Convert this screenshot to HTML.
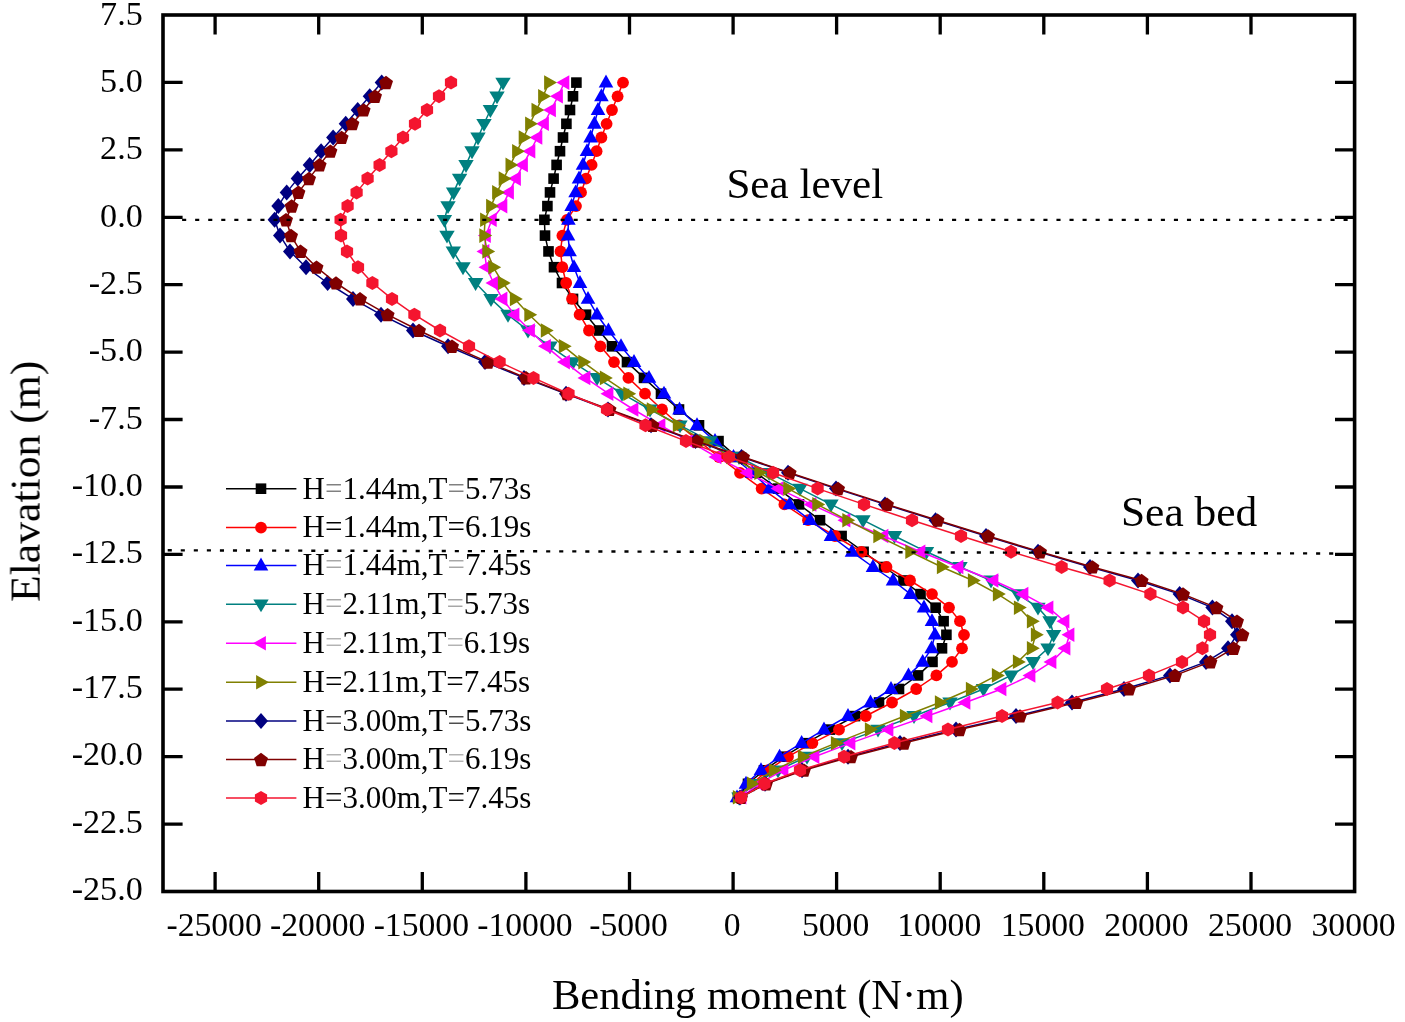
<!DOCTYPE html>
<html lang="en"><head><meta charset="utf-8"><title>Bending moment vs elevation</title>
<style>html,body{margin:0;padding:0;background:#fff}svg{display:block}text{font-family:"Liberation Serif","Times New Roman",serif;fill:#000}</style></head><body>
<svg width="1405" height="1022" viewBox="0 0 1405 1022">
<rect width="1405" height="1022" fill="#fff"/>
<g>
<polyline points="576.4,82.6 573,96.3 570,110 566.4,123.8 563,137.5 560,151.2 556.6,164.9 553.6,178.6 550,192.4 547.4,206.1 544.4,219.8 545,235.6 548.5,251.4 554,267.2 562,283 573,298.9 586,314.7 599,330.5 612,346.3 627,362.1 644,377.9 661,393.7 679,409.5 699,425.3 718.5,441.1 737,457 756,472.8 778,488.6 799,504.4 820,520.2 841.6,536 863.6,551.8 884,567 903.5,580.5 920.5,594.1 935.6,607.6 943.6,621.2 946.4,634.8 942,648.3 932.5,661.9 918,675.4 899,689 879,702.5 855,716 830,729.6 806,743.1 784,756.7 764,770.2 748,783.8 738,797.4" fill="none" stroke="#000000" stroke-width="1.5" stroke-linejoin="round"/>
<rect x="571.1" y="77.3" width="10.6" height="10.6" fill="#000000"/>
<rect x="567.7" y="91" width="10.6" height="10.6" fill="#000000"/>
<rect x="564.7" y="104.7" width="10.6" height="10.6" fill="#000000"/>
<rect x="561.1" y="118.5" width="10.6" height="10.6" fill="#000000"/>
<rect x="557.7" y="132.2" width="10.6" height="10.6" fill="#000000"/>
<rect x="554.7" y="145.9" width="10.6" height="10.6" fill="#000000"/>
<rect x="551.3" y="159.6" width="10.6" height="10.6" fill="#000000"/>
<rect x="548.3" y="173.3" width="10.6" height="10.6" fill="#000000"/>
<rect x="544.7" y="187.1" width="10.6" height="10.6" fill="#000000"/>
<rect x="542.1" y="200.8" width="10.6" height="10.6" fill="#000000"/>
<rect x="539.1" y="214.5" width="10.6" height="10.6" fill="#000000"/>
<rect x="539.7" y="230.3" width="10.6" height="10.6" fill="#000000"/>
<rect x="543.2" y="246.1" width="10.6" height="10.6" fill="#000000"/>
<rect x="548.7" y="261.9" width="10.6" height="10.6" fill="#000000"/>
<rect x="556.7" y="277.7" width="10.6" height="10.6" fill="#000000"/>
<rect x="567.7" y="293.6" width="10.6" height="10.6" fill="#000000"/>
<rect x="580.7" y="309.4" width="10.6" height="10.6" fill="#000000"/>
<rect x="593.7" y="325.2" width="10.6" height="10.6" fill="#000000"/>
<rect x="606.7" y="341" width="10.6" height="10.6" fill="#000000"/>
<rect x="621.7" y="356.8" width="10.6" height="10.6" fill="#000000"/>
<rect x="638.7" y="372.6" width="10.6" height="10.6" fill="#000000"/>
<rect x="655.7" y="388.4" width="10.6" height="10.6" fill="#000000"/>
<rect x="673.7" y="404.2" width="10.6" height="10.6" fill="#000000"/>
<rect x="693.7" y="420" width="10.6" height="10.6" fill="#000000"/>
<rect x="713.2" y="435.8" width="10.6" height="10.6" fill="#000000"/>
<rect x="731.7" y="451.7" width="10.6" height="10.6" fill="#000000"/>
<rect x="750.7" y="467.5" width="10.6" height="10.6" fill="#000000"/>
<rect x="772.7" y="483.3" width="10.6" height="10.6" fill="#000000"/>
<rect x="793.7" y="499.1" width="10.6" height="10.6" fill="#000000"/>
<rect x="814.7" y="514.9" width="10.6" height="10.6" fill="#000000"/>
<rect x="836.3" y="530.7" width="10.6" height="10.6" fill="#000000"/>
<rect x="858.3" y="546.5" width="10.6" height="10.6" fill="#000000"/>
<rect x="878.7" y="561.7" width="10.6" height="10.6" fill="#000000"/>
<rect x="898.2" y="575.2" width="10.6" height="10.6" fill="#000000"/>
<rect x="915.2" y="588.8" width="10.6" height="10.6" fill="#000000"/>
<rect x="930.3" y="602.4" width="10.6" height="10.6" fill="#000000"/>
<rect x="938.3" y="615.9" width="10.6" height="10.6" fill="#000000"/>
<rect x="941.1" y="629.5" width="10.6" height="10.6" fill="#000000"/>
<rect x="936.7" y="643" width="10.6" height="10.6" fill="#000000"/>
<rect x="927.2" y="656.6" width="10.6" height="10.6" fill="#000000"/>
<rect x="912.7" y="670.1" width="10.6" height="10.6" fill="#000000"/>
<rect x="893.7" y="683.7" width="10.6" height="10.6" fill="#000000"/>
<rect x="873.7" y="697.2" width="10.6" height="10.6" fill="#000000"/>
<rect x="849.7" y="710.8" width="10.6" height="10.6" fill="#000000"/>
<rect x="824.7" y="724.3" width="10.6" height="10.6" fill="#000000"/>
<rect x="800.7" y="737.9" width="10.6" height="10.6" fill="#000000"/>
<rect x="778.7" y="751.4" width="10.6" height="10.6" fill="#000000"/>
<rect x="758.7" y="765" width="10.6" height="10.6" fill="#000000"/>
<rect x="742.7" y="778.5" width="10.6" height="10.6" fill="#000000"/>
<rect x="732.7" y="792.1" width="10.6" height="10.6" fill="#000000"/>
</g>
<g>
<polyline points="623,82.6 617.6,96.3 612,110 606.6,123.8 601.4,137.5 596.6,151.2 591.6,164.9 586,178.6 581,192.4 576,206.1 567,219.8 562.4,235.6 560.5,251.4 562.3,267.2 566.2,283 572,298.9 579.6,314.7 589,330.5 600.4,346.3 614,362.1 628.4,377.9 645,393.7 662,409.5 679.5,425.3 699,441.1 719,457 740,472.8 761.6,488.6 784.4,504.4 808,520.2 835,536 861.5,551.8 886.5,567 910,580.5 932,594.1 949,607.6 960,621.2 964,634.8 962,648.3 952,661.9 936.4,675.4 916.2,689 892,702.5 865.8,716 839,729.6 812.4,743.1 788,756.7 768,770.2 752,783.8 740,797.4" fill="none" stroke="#FF0000" stroke-width="1.5" stroke-linejoin="round"/>
<circle cx="623" cy="82.6" r="5.9" fill="#FF0000"/>
<circle cx="617.6" cy="96.3" r="5.9" fill="#FF0000"/>
<circle cx="612" cy="110" r="5.9" fill="#FF0000"/>
<circle cx="606.6" cy="123.8" r="5.9" fill="#FF0000"/>
<circle cx="601.4" cy="137.5" r="5.9" fill="#FF0000"/>
<circle cx="596.6" cy="151.2" r="5.9" fill="#FF0000"/>
<circle cx="591.6" cy="164.9" r="5.9" fill="#FF0000"/>
<circle cx="586" cy="178.6" r="5.9" fill="#FF0000"/>
<circle cx="581" cy="192.4" r="5.9" fill="#FF0000"/>
<circle cx="576" cy="206.1" r="5.9" fill="#FF0000"/>
<circle cx="567" cy="219.8" r="5.9" fill="#FF0000"/>
<circle cx="562.4" cy="235.6" r="5.9" fill="#FF0000"/>
<circle cx="560.5" cy="251.4" r="5.9" fill="#FF0000"/>
<circle cx="562.3" cy="267.2" r="5.9" fill="#FF0000"/>
<circle cx="566.2" cy="283" r="5.9" fill="#FF0000"/>
<circle cx="572" cy="298.9" r="5.9" fill="#FF0000"/>
<circle cx="579.6" cy="314.7" r="5.9" fill="#FF0000"/>
<circle cx="589" cy="330.5" r="5.9" fill="#FF0000"/>
<circle cx="600.4" cy="346.3" r="5.9" fill="#FF0000"/>
<circle cx="614" cy="362.1" r="5.9" fill="#FF0000"/>
<circle cx="628.4" cy="377.9" r="5.9" fill="#FF0000"/>
<circle cx="645" cy="393.7" r="5.9" fill="#FF0000"/>
<circle cx="662" cy="409.5" r="5.9" fill="#FF0000"/>
<circle cx="679.5" cy="425.3" r="5.9" fill="#FF0000"/>
<circle cx="699" cy="441.1" r="5.9" fill="#FF0000"/>
<circle cx="719" cy="457" r="5.9" fill="#FF0000"/>
<circle cx="740" cy="472.8" r="5.9" fill="#FF0000"/>
<circle cx="761.6" cy="488.6" r="5.9" fill="#FF0000"/>
<circle cx="784.4" cy="504.4" r="5.9" fill="#FF0000"/>
<circle cx="808" cy="520.2" r="5.9" fill="#FF0000"/>
<circle cx="835" cy="536" r="5.9" fill="#FF0000"/>
<circle cx="861.5" cy="551.8" r="5.9" fill="#FF0000"/>
<circle cx="886.5" cy="567" r="5.9" fill="#FF0000"/>
<circle cx="910" cy="580.5" r="5.9" fill="#FF0000"/>
<circle cx="932" cy="594.1" r="5.9" fill="#FF0000"/>
<circle cx="949" cy="607.6" r="5.9" fill="#FF0000"/>
<circle cx="960" cy="621.2" r="5.9" fill="#FF0000"/>
<circle cx="964" cy="634.8" r="5.9" fill="#FF0000"/>
<circle cx="962" cy="648.3" r="5.9" fill="#FF0000"/>
<circle cx="952" cy="661.9" r="5.9" fill="#FF0000"/>
<circle cx="936.4" cy="675.4" r="5.9" fill="#FF0000"/>
<circle cx="916.2" cy="689" r="5.9" fill="#FF0000"/>
<circle cx="892" cy="702.5" r="5.9" fill="#FF0000"/>
<circle cx="865.8" cy="716" r="5.9" fill="#FF0000"/>
<circle cx="839" cy="729.6" r="5.9" fill="#FF0000"/>
<circle cx="812.4" cy="743.1" r="5.9" fill="#FF0000"/>
<circle cx="788" cy="756.7" r="5.9" fill="#FF0000"/>
<circle cx="768" cy="770.2" r="5.9" fill="#FF0000"/>
<circle cx="752" cy="783.8" r="5.9" fill="#FF0000"/>
<circle cx="740" cy="797.4" r="5.9" fill="#FF0000"/>
</g>
<g>
<polyline points="606,82.6 601.4,96.3 598,110 594.4,123.8 590.6,137.5 587,151.2 583,164.9 579,178.6 575.6,192.4 571.6,206.1 568.4,219.8 568,235.6 569.6,251.4 574,267.2 580,283 588,298.9 597,314.7 608.4,330.5 621,346.3 634,362.1 649,377.9 664,393.7 679.5,409.5 697,425.3 715,441.1 733.5,457 752,472.8 769.6,488.6 789.6,504.4 810,520.2 831,536 852,551.8 873,567 893,580.5 910.5,594.1 924,607.6 932,621.2 935,634.8 931.6,648.3 922.7,661.9 908.5,675.4 891,689 870.5,702.5 848,716 824,729.6 801.6,743.1 779.6,756.7 761,770.2 746,783.8 737,797.4" fill="none" stroke="#0000FF" stroke-width="1.5" stroke-linejoin="round"/>
<polygon points="606,74.6 613.3,87.5 598.7,87.5" fill="#0000FF"/>
<polygon points="601.4,88.3 608.7,101.2 594.1,101.2" fill="#0000FF"/>
<polygon points="598,102 605.3,114.9 590.7,114.9" fill="#0000FF"/>
<polygon points="594.4,115.8 601.7,128.7 587.1,128.7" fill="#0000FF"/>
<polygon points="590.6,129.5 597.9,142.4 583.3,142.4" fill="#0000FF"/>
<polygon points="587,143.2 594.3,156.1 579.7,156.1" fill="#0000FF"/>
<polygon points="583,156.9 590.3,169.8 575.7,169.8" fill="#0000FF"/>
<polygon points="579,170.6 586.3,183.5 571.7,183.5" fill="#0000FF"/>
<polygon points="575.6,184.4 582.9,197.3 568.3,197.3" fill="#0000FF"/>
<polygon points="571.6,198.1 578.9,211 564.3,211" fill="#0000FF"/>
<polygon points="568.4,211.8 575.7,224.7 561.1,224.7" fill="#0000FF"/>
<polygon points="568,227.6 575.3,240.5 560.7,240.5" fill="#0000FF"/>
<polygon points="569.6,243.4 576.9,256.3 562.3,256.3" fill="#0000FF"/>
<polygon points="574,259.2 581.3,272.1 566.7,272.1" fill="#0000FF"/>
<polygon points="580,275 587.3,287.9 572.7,287.9" fill="#0000FF"/>
<polygon points="588,290.9 595.3,303.8 580.7,303.8" fill="#0000FF"/>
<polygon points="597,306.7 604.3,319.6 589.7,319.6" fill="#0000FF"/>
<polygon points="608.4,322.5 615.7,335.4 601.1,335.4" fill="#0000FF"/>
<polygon points="621,338.3 628.3,351.2 613.7,351.2" fill="#0000FF"/>
<polygon points="634,354.1 641.3,367 626.7,367" fill="#0000FF"/>
<polygon points="649,369.9 656.3,382.8 641.7,382.8" fill="#0000FF"/>
<polygon points="664,385.7 671.3,398.6 656.7,398.6" fill="#0000FF"/>
<polygon points="679.5,401.5 686.8,414.4 672.2,414.4" fill="#0000FF"/>
<polygon points="697,417.3 704.3,430.2 689.7,430.2" fill="#0000FF"/>
<polygon points="715,433.1 722.3,446 707.7,446" fill="#0000FF"/>
<polygon points="733.5,449 740.8,461.9 726.2,461.9" fill="#0000FF"/>
<polygon points="752,464.8 759.3,477.7 744.7,477.7" fill="#0000FF"/>
<polygon points="769.6,480.6 776.9,493.5 762.3,493.5" fill="#0000FF"/>
<polygon points="789.6,496.4 796.9,509.3 782.3,509.3" fill="#0000FF"/>
<polygon points="810,512.2 817.3,525.1 802.7,525.1" fill="#0000FF"/>
<polygon points="831,528 838.3,540.9 823.7,540.9" fill="#0000FF"/>
<polygon points="852,543.8 859.3,556.7 844.7,556.7" fill="#0000FF"/>
<polygon points="873,559 880.3,571.9 865.7,571.9" fill="#0000FF"/>
<polygon points="893,572.5 900.3,585.4 885.7,585.4" fill="#0000FF"/>
<polygon points="910.5,586.1 917.8,599 903.2,599" fill="#0000FF"/>
<polygon points="924,599.6 931.3,612.5 916.7,612.5" fill="#0000FF"/>
<polygon points="932,613.2 939.3,626.1 924.7,626.1" fill="#0000FF"/>
<polygon points="935,626.8 942.3,639.6 927.7,639.6" fill="#0000FF"/>
<polygon points="931.6,640.3 938.9,653.2 924.3,653.2" fill="#0000FF"/>
<polygon points="922.7,653.9 930,666.8 915.4,666.8" fill="#0000FF"/>
<polygon points="908.5,667.4 915.8,680.3 901.2,680.3" fill="#0000FF"/>
<polygon points="891,681 898.3,693.9 883.7,693.9" fill="#0000FF"/>
<polygon points="870.5,694.5 877.8,707.4 863.2,707.4" fill="#0000FF"/>
<polygon points="848,708 855.3,720.9 840.7,720.9" fill="#0000FF"/>
<polygon points="824,721.6 831.3,734.5 816.7,734.5" fill="#0000FF"/>
<polygon points="801.6,735.1 808.9,748 794.3,748" fill="#0000FF"/>
<polygon points="779.6,748.7 786.9,761.6 772.3,761.6" fill="#0000FF"/>
<polygon points="761,762.2 768.3,775.1 753.7,775.1" fill="#0000FF"/>
<polygon points="746,775.8 753.3,788.7 738.7,788.7" fill="#0000FF"/>
<polygon points="737,789.4 744.3,802.2 729.7,802.2" fill="#0000FF"/>
</g>
<g>
<polyline points="503,82.6 497,96.3 490.4,110 484,123.8 478,137.5 472,151.2 466,164.9 459.6,178.6 453.6,192.4 448,206.1 444.4,219.8 447,235.6 453.3,251.4 463,267.2 475.6,283 491,298.9 508,314.7 528,330.5 550,346.3 573,362.1 597,377.9 622,393.7 650,409.5 680,425.3 710,441.1 739,457 769,472.8 800,488.6 831,504.4 863,520.2 894.5,536 926.5,551.8 960,567 991,580.5 1018,594.1 1038,607.6 1050,621.2 1053.6,634.8 1048,648.3 1033,661.9 1011,675.4 983.5,689 950,702.5 914,716 878,729.6 842,743.1 807,756.7 778,770.2 754,783.8 739,797.4" fill="none" stroke="#008080" stroke-width="1.5" stroke-linejoin="round"/>
<polygon points="503,90.6 510.7,77.7 495.3,77.7" fill="#008080"/>
<polygon points="497,104.3 504.7,91.4 489.3,91.4" fill="#008080"/>
<polygon points="490.4,118 498.1,105.1 482.7,105.1" fill="#008080"/>
<polygon points="484,131.8 491.7,118.9 476.3,118.9" fill="#008080"/>
<polygon points="478,145.5 485.7,132.6 470.3,132.6" fill="#008080"/>
<polygon points="472,159.2 479.7,146.3 464.3,146.3" fill="#008080"/>
<polygon points="466,172.9 473.7,160 458.3,160" fill="#008080"/>
<polygon points="459.6,186.6 467.3,173.7 451.9,173.7" fill="#008080"/>
<polygon points="453.6,200.4 461.3,187.5 445.9,187.5" fill="#008080"/>
<polygon points="448,214.1 455.7,201.2 440.3,201.2" fill="#008080"/>
<polygon points="444.4,227.8 452.1,214.9 436.7,214.9" fill="#008080"/>
<polygon points="447,243.6 454.7,230.7 439.3,230.7" fill="#008080"/>
<polygon points="453.3,259.4 461,246.5 445.6,246.5" fill="#008080"/>
<polygon points="463,275.2 470.7,262.3 455.3,262.3" fill="#008080"/>
<polygon points="475.6,291 483.3,278.1 467.9,278.1" fill="#008080"/>
<polygon points="491,306.9 498.7,294 483.3,294" fill="#008080"/>
<polygon points="508,322.7 515.7,309.8 500.3,309.8" fill="#008080"/>
<polygon points="528,338.5 535.7,325.6 520.3,325.6" fill="#008080"/>
<polygon points="550,354.3 557.7,341.4 542.3,341.4" fill="#008080"/>
<polygon points="573,370.1 580.7,357.2 565.3,357.2" fill="#008080"/>
<polygon points="597,385.9 604.7,373 589.3,373" fill="#008080"/>
<polygon points="622,401.7 629.7,388.8 614.3,388.8" fill="#008080"/>
<polygon points="650,417.5 657.7,404.6 642.3,404.6" fill="#008080"/>
<polygon points="680,433.3 687.7,420.4 672.3,420.4" fill="#008080"/>
<polygon points="710,449.1 717.7,436.2 702.3,436.2" fill="#008080"/>
<polygon points="739,465 746.7,452.1 731.3,452.1" fill="#008080"/>
<polygon points="769,480.8 776.7,467.9 761.3,467.9" fill="#008080"/>
<polygon points="800,496.6 807.7,483.7 792.3,483.7" fill="#008080"/>
<polygon points="831,512.4 838.7,499.5 823.3,499.5" fill="#008080"/>
<polygon points="863,528.2 870.7,515.3 855.3,515.3" fill="#008080"/>
<polygon points="894.5,544 902.2,531.1 886.8,531.1" fill="#008080"/>
<polygon points="926.5,559.8 934.2,546.9 918.8,546.9" fill="#008080"/>
<polygon points="960,575 967.7,562.1 952.3,562.1" fill="#008080"/>
<polygon points="991,588.5 998.7,575.6 983.3,575.6" fill="#008080"/>
<polygon points="1018,602.1 1025.7,589.2 1010.3,589.2" fill="#008080"/>
<polygon points="1038,615.6 1045.7,602.8 1030.3,602.8" fill="#008080"/>
<polygon points="1050,629.2 1057.7,616.3 1042.3,616.3" fill="#008080"/>
<polygon points="1053.6,642.8 1061.3,629.9 1045.9,629.9" fill="#008080"/>
<polygon points="1048,656.3 1055.7,643.4 1040.3,643.4" fill="#008080"/>
<polygon points="1033,669.9 1040.7,657 1025.3,657" fill="#008080"/>
<polygon points="1011,683.4 1018.7,670.5 1003.3,670.5" fill="#008080"/>
<polygon points="983.5,697 991.2,684.1 975.8,684.1" fill="#008080"/>
<polygon points="950,710.5 957.7,697.6 942.3,697.6" fill="#008080"/>
<polygon points="914,724 921.7,711.1 906.3,711.1" fill="#008080"/>
<polygon points="878,737.6 885.7,724.7 870.3,724.7" fill="#008080"/>
<polygon points="842,751.1 849.7,738.2 834.3,738.2" fill="#008080"/>
<polygon points="807,764.7 814.7,751.8 799.3,751.8" fill="#008080"/>
<polygon points="778,778.2 785.7,765.4 770.3,765.4" fill="#008080"/>
<polygon points="754,791.8 761.7,778.9 746.3,778.9" fill="#008080"/>
<polygon points="739,805.4 746.7,792.5 731.3,792.5" fill="#008080"/>
</g>
<g>
<polyline points="564.4,82.6 558,96.3 551,110 544,123.8 537.4,137.5 530.4,151.2 523,164.9 516,178.6 509,192.4 502.4,206.1 491.8,219.8 485.9,235.6 484.5,251.4 486.5,267.2 493.5,283 502.5,298.9 514.5,314.7 530,330.5 546,346.3 565,362.1 585.5,377.9 608.5,393.7 633.5,409.5 660.5,425.3 689,441.1 716.5,457 747.5,472.8 778.5,488.6 811.5,504.4 845.5,520.2 883.5,536 920.5,551.8 958.5,567 993.5,580.5 1023.5,594.1 1048.5,607.6 1064.5,621.2 1069.5,634.8 1065.5,648.3 1051.5,661.9 1030.5,675.4 1001.5,689 965.5,702.5 927.5,716 888.5,729.6 850.5,743.1 814.5,756.7 783.5,770.2 758.5,783.8 741.5,797.4" fill="none" stroke="#FF00FF" stroke-width="1.5" stroke-linejoin="round"/>
<polygon points="556.4,82.6 569.3,75.3 569.3,89.9" fill="#FF00FF"/>
<polygon points="550,96.3 562.9,89 562.9,103.6" fill="#FF00FF"/>
<polygon points="543,110 555.9,102.7 555.9,117.3" fill="#FF00FF"/>
<polygon points="536,123.8 548.9,116.5 548.9,131.1" fill="#FF00FF"/>
<polygon points="529.4,137.5 542.3,130.2 542.3,144.8" fill="#FF00FF"/>
<polygon points="522.4,151.2 535.3,143.9 535.3,158.5" fill="#FF00FF"/>
<polygon points="515,164.9 527.9,157.6 527.9,172.2" fill="#FF00FF"/>
<polygon points="508,178.6 520.9,171.3 520.9,185.9" fill="#FF00FF"/>
<polygon points="501,192.4 513.9,185.1 513.9,199.7" fill="#FF00FF"/>
<polygon points="494.4,206.1 507.3,198.8 507.3,213.4" fill="#FF00FF"/>
<polygon points="483.8,219.8 496.7,212.5 496.7,227.1" fill="#FF00FF"/>
<polygon points="477.9,235.6 490.8,228.3 490.8,242.9" fill="#FF00FF"/>
<polygon points="476.5,251.4 489.4,244.1 489.4,258.7" fill="#FF00FF"/>
<polygon points="478.5,267.2 491.4,259.9 491.4,274.5" fill="#FF00FF"/>
<polygon points="485.5,283 498.4,275.7 498.4,290.3" fill="#FF00FF"/>
<polygon points="494.5,298.9 507.4,291.6 507.4,306.2" fill="#FF00FF"/>
<polygon points="506.5,314.7 519.4,307.4 519.4,322" fill="#FF00FF"/>
<polygon points="522,330.5 534.9,323.2 534.9,337.8" fill="#FF00FF"/>
<polygon points="538,346.3 550.9,339 550.9,353.6" fill="#FF00FF"/>
<polygon points="557,362.1 569.9,354.8 569.9,369.4" fill="#FF00FF"/>
<polygon points="577.5,377.9 590.4,370.6 590.4,385.2" fill="#FF00FF"/>
<polygon points="600.5,393.7 613.4,386.4 613.4,401" fill="#FF00FF"/>
<polygon points="625.5,409.5 638.4,402.2 638.4,416.8" fill="#FF00FF"/>
<polygon points="652.5,425.3 665.4,418 665.4,432.6" fill="#FF00FF"/>
<polygon points="681,441.1 693.9,433.8 693.9,448.4" fill="#FF00FF"/>
<polygon points="708.5,457 721.4,449.7 721.4,464.3" fill="#FF00FF"/>
<polygon points="739.5,472.8 752.4,465.5 752.4,480.1" fill="#FF00FF"/>
<polygon points="770.5,488.6 783.4,481.3 783.4,495.9" fill="#FF00FF"/>
<polygon points="803.5,504.4 816.4,497.1 816.4,511.7" fill="#FF00FF"/>
<polygon points="837.5,520.2 850.4,512.9 850.4,527.5" fill="#FF00FF"/>
<polygon points="875.5,536 888.4,528.7 888.4,543.3" fill="#FF00FF"/>
<polygon points="912.5,551.8 925.4,544.5 925.4,559.1" fill="#FF00FF"/>
<polygon points="950.5,567 963.4,559.7 963.4,574.3" fill="#FF00FF"/>
<polygon points="985.5,580.5 998.4,573.2 998.4,587.8" fill="#FF00FF"/>
<polygon points="1015.5,594.1 1028.4,586.8 1028.4,601.4" fill="#FF00FF"/>
<polygon points="1040.5,607.6 1053.4,600.4 1053.4,614.9" fill="#FF00FF"/>
<polygon points="1056.5,621.2 1069.4,613.9 1069.4,628.5" fill="#FF00FF"/>
<polygon points="1061.5,634.8 1074.4,627.5 1074.4,642" fill="#FF00FF"/>
<polygon points="1057.5,648.3 1070.4,641 1070.4,655.6" fill="#FF00FF"/>
<polygon points="1043.5,661.9 1056.4,654.6 1056.4,669.1" fill="#FF00FF"/>
<polygon points="1022.5,675.4 1035.4,668.1 1035.4,682.7" fill="#FF00FF"/>
<polygon points="993.5,689 1006.4,681.7 1006.4,696.2" fill="#FF00FF"/>
<polygon points="957.5,702.5 970.4,695.2 970.4,709.8" fill="#FF00FF"/>
<polygon points="919.5,716 932.4,708.8 932.4,723.3" fill="#FF00FF"/>
<polygon points="880.5,729.6 893.4,722.3 893.4,736.9" fill="#FF00FF"/>
<polygon points="842.5,743.1 855.4,735.9 855.4,750.4" fill="#FF00FF"/>
<polygon points="806.5,756.7 819.4,749.4 819.4,764" fill="#FF00FF"/>
<polygon points="775.5,770.2 788.4,763 788.4,777.5" fill="#FF00FF"/>
<polygon points="750.5,783.8 763.4,776.5 763.4,791.1" fill="#FF00FF"/>
<polygon points="733.5,797.4 746.4,790.1 746.4,804.6" fill="#FF00FF"/>
</g>
<g>
<polyline points="549,82.6 543,96.3 536.4,110 530,123.8 523.6,137.5 517,151.2 510.4,164.9 503.6,178.6 497,192.4 491,206.1 485,219.8 484.2,235.6 487.2,251.4 493.2,267.2 502.8,283 514.8,298.9 529.2,314.7 545.7,330.5 563.7,346.3 583.2,362.1 604.8,377.9 628.2,393.7 651.7,409.5 677.7,425.3 704.2,441.1 731.2,457 759.2,472.8 788.2,488.6 817.2,504.4 847.2,520.2 878.2,536 910.2,551.8 941.8,567 972.8,580.5 997.8,594.1 1018.8,607.6 1031.8,621.2 1035.8,634.8 1031.8,648.3 1017.8,661.9 996.8,675.4 970.8,689 939.8,702.5 904.8,716 869.8,729.6 835.8,743.1 802.8,756.7 773.8,770.2 751.8,783.8 737.8,797.4" fill="none" stroke="#808000" stroke-width="1.5" stroke-linejoin="round"/>
<polygon points="557,82.6 544.1,75.3 544.1,89.9" fill="#808000"/>
<polygon points="551,96.3 538.1,89 538.1,103.6" fill="#808000"/>
<polygon points="544.4,110 531.5,102.7 531.5,117.3" fill="#808000"/>
<polygon points="538,123.8 525.1,116.5 525.1,131.1" fill="#808000"/>
<polygon points="531.6,137.5 518.7,130.2 518.7,144.8" fill="#808000"/>
<polygon points="525,151.2 512.1,143.9 512.1,158.5" fill="#808000"/>
<polygon points="518.4,164.9 505.5,157.6 505.5,172.2" fill="#808000"/>
<polygon points="511.6,178.6 498.7,171.3 498.7,185.9" fill="#808000"/>
<polygon points="505,192.4 492.1,185.1 492.1,199.7" fill="#808000"/>
<polygon points="499,206.1 486.1,198.8 486.1,213.4" fill="#808000"/>
<polygon points="493,219.8 480.1,212.5 480.1,227.1" fill="#808000"/>
<polygon points="492.2,235.6 479.3,228.3 479.3,242.9" fill="#808000"/>
<polygon points="495.2,251.4 482.3,244.1 482.3,258.7" fill="#808000"/>
<polygon points="501.2,267.2 488.3,259.9 488.3,274.5" fill="#808000"/>
<polygon points="510.8,283 497.9,275.7 497.9,290.3" fill="#808000"/>
<polygon points="522.8,298.9 509.9,291.6 509.9,306.2" fill="#808000"/>
<polygon points="537.2,314.7 524.3,307.4 524.3,322" fill="#808000"/>
<polygon points="553.7,330.5 540.8,323.2 540.8,337.8" fill="#808000"/>
<polygon points="571.7,346.3 558.8,339 558.8,353.6" fill="#808000"/>
<polygon points="591.2,362.1 578.3,354.8 578.3,369.4" fill="#808000"/>
<polygon points="612.8,377.9 599.9,370.6 599.9,385.2" fill="#808000"/>
<polygon points="636.2,393.7 623.3,386.4 623.3,401" fill="#808000"/>
<polygon points="659.7,409.5 646.8,402.2 646.8,416.8" fill="#808000"/>
<polygon points="685.7,425.3 672.8,418 672.8,432.6" fill="#808000"/>
<polygon points="712.2,441.1 699.3,433.8 699.3,448.4" fill="#808000"/>
<polygon points="739.2,457 726.3,449.7 726.3,464.3" fill="#808000"/>
<polygon points="767.2,472.8 754.3,465.5 754.3,480.1" fill="#808000"/>
<polygon points="796.2,488.6 783.3,481.3 783.3,495.9" fill="#808000"/>
<polygon points="825.2,504.4 812.3,497.1 812.3,511.7" fill="#808000"/>
<polygon points="855.2,520.2 842.3,512.9 842.3,527.5" fill="#808000"/>
<polygon points="886.2,536 873.3,528.7 873.3,543.3" fill="#808000"/>
<polygon points="918.2,551.8 905.3,544.5 905.3,559.1" fill="#808000"/>
<polygon points="949.8,567 936.9,559.7 936.9,574.3" fill="#808000"/>
<polygon points="980.8,580.5 967.9,573.2 967.9,587.8" fill="#808000"/>
<polygon points="1005.8,594.1 992.9,586.8 992.9,601.4" fill="#808000"/>
<polygon points="1026.8,607.6 1013.9,600.4 1013.9,614.9" fill="#808000"/>
<polygon points="1039.8,621.2 1026.9,613.9 1026.9,628.5" fill="#808000"/>
<polygon points="1043.8,634.8 1030.9,627.5 1030.9,642" fill="#808000"/>
<polygon points="1039.8,648.3 1026.9,641 1026.9,655.6" fill="#808000"/>
<polygon points="1025.8,661.9 1012.9,654.6 1012.9,669.1" fill="#808000"/>
<polygon points="1004.8,675.4 991.9,668.1 991.9,682.7" fill="#808000"/>
<polygon points="978.8,689 965.9,681.7 965.9,696.2" fill="#808000"/>
<polygon points="947.8,702.5 934.9,695.2 934.9,709.8" fill="#808000"/>
<polygon points="912.8,716 899.9,708.8 899.9,723.3" fill="#808000"/>
<polygon points="877.8,729.6 864.9,722.3 864.9,736.9" fill="#808000"/>
<polygon points="843.8,743.1 830.9,735.9 830.9,750.4" fill="#808000"/>
<polygon points="810.8,756.7 797.9,749.4 797.9,764" fill="#808000"/>
<polygon points="781.8,770.2 768.9,763 768.9,777.5" fill="#808000"/>
<polygon points="759.8,783.8 746.9,776.5 746.9,791.1" fill="#808000"/>
<polygon points="745.8,797.4 732.9,790.1 732.9,804.6" fill="#808000"/>
</g>
<g>
<polyline points="381.7,82.6 369.7,96.3 357.7,110 345.7,123.8 333.1,137.5 321.1,151.2 309.7,164.9 297.7,178.6 286.7,192.4 278.3,206.1 274.6,219.8 280,235.6 290,251.4 306,267.2 327.6,283 353,298.9 381,314.7 413,330.5 448,346.3 485,362.1 524,377.9 566,393.7 608,409.5 651,425.3 695.5,441.1 741.5,457 788,472.8 836,488.6 885,504.4 935.5,520.2 986,536 1038,551.8 1090,567 1138,580.5 1179.6,594.1 1212.4,607.6 1232,621.2 1237,634.8 1228,648.3 1206,661.9 1170,675.4 1124,689 1072,702.5 1016,716 956,729.6 900,743.1 848,756.7 802,770.2 765,783.8 740,797.4" fill="none" stroke="#000080" stroke-width="1.5" stroke-linejoin="round"/>
<polygon points="381.7,74.6 388.7,82.6 381.7,90.6 374.7,82.6" fill="#000080"/>
<polygon points="369.7,88.3 376.7,96.3 369.7,104.3 362.7,96.3" fill="#000080"/>
<polygon points="357.7,102 364.7,110 357.7,118 350.7,110" fill="#000080"/>
<polygon points="345.7,115.8 352.7,123.8 345.7,131.8 338.7,123.8" fill="#000080"/>
<polygon points="333.1,129.5 340.1,137.5 333.1,145.5 326.1,137.5" fill="#000080"/>
<polygon points="321.1,143.2 328.1,151.2 321.1,159.2 314.1,151.2" fill="#000080"/>
<polygon points="309.7,156.9 316.7,164.9 309.7,172.9 302.7,164.9" fill="#000080"/>
<polygon points="297.7,170.6 304.7,178.6 297.7,186.6 290.7,178.6" fill="#000080"/>
<polygon points="286.7,184.4 293.7,192.4 286.7,200.4 279.7,192.4" fill="#000080"/>
<polygon points="278.3,198.1 285.3,206.1 278.3,214.1 271.3,206.1" fill="#000080"/>
<polygon points="274.6,211.8 281.6,219.8 274.6,227.8 267.6,219.8" fill="#000080"/>
<polygon points="280,227.6 287,235.6 280,243.6 273,235.6" fill="#000080"/>
<polygon points="290,243.4 297,251.4 290,259.4 283,251.4" fill="#000080"/>
<polygon points="306,259.2 313,267.2 306,275.2 299,267.2" fill="#000080"/>
<polygon points="327.6,275 334.6,283 327.6,291 320.6,283" fill="#000080"/>
<polygon points="353,290.9 360,298.9 353,306.9 346,298.9" fill="#000080"/>
<polygon points="381,306.7 388,314.7 381,322.7 374,314.7" fill="#000080"/>
<polygon points="413,322.5 420,330.5 413,338.5 406,330.5" fill="#000080"/>
<polygon points="448,338.3 455,346.3 448,354.3 441,346.3" fill="#000080"/>
<polygon points="485,354.1 492,362.1 485,370.1 478,362.1" fill="#000080"/>
<polygon points="524,369.9 531,377.9 524,385.9 517,377.9" fill="#000080"/>
<polygon points="566,385.7 573,393.7 566,401.7 559,393.7" fill="#000080"/>
<polygon points="608,401.5 615,409.5 608,417.5 601,409.5" fill="#000080"/>
<polygon points="651,417.3 658,425.3 651,433.3 644,425.3" fill="#000080"/>
<polygon points="695.5,433.1 702.5,441.1 695.5,449.1 688.5,441.1" fill="#000080"/>
<polygon points="741.5,449 748.5,457 741.5,465 734.5,457" fill="#000080"/>
<polygon points="788,464.8 795,472.8 788,480.8 781,472.8" fill="#000080"/>
<polygon points="836,480.6 843,488.6 836,496.6 829,488.6" fill="#000080"/>
<polygon points="885,496.4 892,504.4 885,512.4 878,504.4" fill="#000080"/>
<polygon points="935.5,512.2 942.5,520.2 935.5,528.2 928.5,520.2" fill="#000080"/>
<polygon points="986,528 993,536 986,544 979,536" fill="#000080"/>
<polygon points="1038,543.8 1045,551.8 1038,559.8 1031,551.8" fill="#000080"/>
<polygon points="1090,559 1097,567 1090,575 1083,567" fill="#000080"/>
<polygon points="1138,572.5 1145,580.5 1138,588.5 1131,580.5" fill="#000080"/>
<polygon points="1179.6,586.1 1186.6,594.1 1179.6,602.1 1172.6,594.1" fill="#000080"/>
<polygon points="1212.4,599.6 1219.4,607.6 1212.4,615.6 1205.4,607.6" fill="#000080"/>
<polygon points="1232,613.2 1239,621.2 1232,629.2 1225,621.2" fill="#000080"/>
<polygon points="1237,626.8 1244,634.8 1237,642.8 1230,634.8" fill="#000080"/>
<polygon points="1228,640.3 1235,648.3 1228,656.3 1221,648.3" fill="#000080"/>
<polygon points="1206,653.9 1213,661.9 1206,669.9 1199,661.9" fill="#000080"/>
<polygon points="1170,667.4 1177,675.4 1170,683.4 1163,675.4" fill="#000080"/>
<polygon points="1124,681 1131,689 1124,697 1117,689" fill="#000080"/>
<polygon points="1072,694.5 1079,702.5 1072,710.5 1065,702.5" fill="#000080"/>
<polygon points="1016,708 1023,716 1016,724 1009,716" fill="#000080"/>
<polygon points="956,721.6 963,729.6 956,737.6 949,729.6" fill="#000080"/>
<polygon points="900,735.1 907,743.1 900,751.1 893,743.1" fill="#000080"/>
<polygon points="848,748.7 855,756.7 848,764.7 841,756.7" fill="#000080"/>
<polygon points="802,762.2 809,770.2 802,778.2 795,770.2" fill="#000080"/>
<polygon points="765,775.8 772,783.8 765,791.8 758,783.8" fill="#000080"/>
<polygon points="740,789.4 747,797.4 740,805.4 733,797.4" fill="#000080"/>
</g>
<g>
<polyline points="386,82.6 375,96.3 363.6,110 352.4,123.8 341.6,137.5 330.4,151.2 319.6,164.9 309,178.6 298.4,192.4 291.6,206.1 286,219.8 291,235.6 300.5,251.4 316.5,267.2 336,283 360,298.9 387.6,314.7 419,330.5 452,346.3 488,362.1 526,377.9 567,393.7 609.5,409.5 652.5,425.3 697,441.1 743,457 789.6,472.8 838,488.6 887,504.4 937.5,520.2 988,536 1040,551.8 1092.4,567 1141.6,580.5 1183,594.1 1216.4,607.6 1237,621.2 1242.4,634.8 1233.6,648.3 1210.4,661.9 1175,675.4 1129,689 1076.4,702.5 1020,716 959.5,729.6 904,743.1 851,756.7 804,770.2 766,783.8 741,797.4" fill="none" stroke="#800000" stroke-width="1.5" stroke-linejoin="round"/>
<polygon points="386,75.8 393,80.9 390.3,89.2 381.7,89.2 379,80.9" fill="#800000"/>
<polygon points="375,89.5 382,94.6 379.3,102.9 370.7,102.9 368,94.6" fill="#800000"/>
<polygon points="363.6,103.2 370.6,108.4 367.9,116.6 359.3,116.6 356.6,108.4" fill="#800000"/>
<polygon points="352.4,117 359.4,122.1 356.7,130.3 348.1,130.3 345.4,122.1" fill="#800000"/>
<polygon points="341.6,130.7 348.6,135.8 345.9,144.1 337.3,144.1 334.6,135.8" fill="#800000"/>
<polygon points="330.4,144.4 337.4,149.5 334.7,157.8 326.1,157.8 323.4,149.5" fill="#800000"/>
<polygon points="319.6,158.1 326.6,163.2 323.9,171.5 315.3,171.5 312.6,163.2" fill="#800000"/>
<polygon points="309,171.8 316,177 313.3,185.2 304.7,185.2 302,177" fill="#800000"/>
<polygon points="298.4,185.6 305.4,190.7 302.7,198.9 294.1,198.9 291.4,190.7" fill="#800000"/>
<polygon points="291.6,199.3 298.6,204.4 295.9,212.7 287.3,212.7 284.6,204.4" fill="#800000"/>
<polygon points="286,213 293,218.1 290.3,226.4 281.7,226.4 279,218.1" fill="#800000"/>
<polygon points="291,228.8 298,233.9 295.3,242.2 286.7,242.2 284,233.9" fill="#800000"/>
<polygon points="300.5,244.6 307.5,249.7 304.8,258 296.2,258 293.5,249.7" fill="#800000"/>
<polygon points="316.5,260.4 323.5,265.5 320.8,273.8 312.2,273.8 309.5,265.5" fill="#800000"/>
<polygon points="336,276.2 343,281.4 340.3,289.6 331.7,289.6 329,281.4" fill="#800000"/>
<polygon points="360,292.1 367,297.2 364.3,305.4 355.7,305.4 353,297.2" fill="#800000"/>
<polygon points="387.6,307.9 394.6,313 391.9,321.2 383.3,321.2 380.6,313" fill="#800000"/>
<polygon points="419,323.7 426,328.8 423.3,337.1 414.7,337.1 412,328.8" fill="#800000"/>
<polygon points="452,339.5 459,344.6 456.3,352.9 447.7,352.9 445,344.6" fill="#800000"/>
<polygon points="488,355.3 495,360.4 492.3,368.7 483.7,368.7 481,360.4" fill="#800000"/>
<polygon points="526,371.1 533,376.2 530.3,384.5 521.7,384.5 519,376.2" fill="#800000"/>
<polygon points="567,386.9 574,392 571.3,400.3 562.7,400.3 560,392" fill="#800000"/>
<polygon points="609.5,402.7 616.5,407.8 613.8,416.1 605.2,416.1 602.5,407.8" fill="#800000"/>
<polygon points="652.5,418.5 659.5,423.6 656.8,431.9 648.2,431.9 645.5,423.6" fill="#800000"/>
<polygon points="697,434.3 704,439.5 701.3,447.7 692.7,447.7 690,439.5" fill="#800000"/>
<polygon points="743,450.2 750,455.3 747.3,463.5 738.7,463.5 736,455.3" fill="#800000"/>
<polygon points="789.6,466 796.6,471.1 793.9,479.3 785.3,479.3 782.6,471.1" fill="#800000"/>
<polygon points="838,481.8 845,486.9 842.3,495.2 833.7,495.2 831,486.9" fill="#800000"/>
<polygon points="887,497.6 894,502.7 891.3,511 882.7,511 880,502.7" fill="#800000"/>
<polygon points="937.5,513.4 944.5,518.5 941.8,526.8 933.2,526.8 930.5,518.5" fill="#800000"/>
<polygon points="988,529.2 995,534.3 992.3,542.6 983.7,542.6 981,534.3" fill="#800000"/>
<polygon points="1040,545 1047,550.1 1044.3,558.4 1035.7,558.4 1033,550.1" fill="#800000"/>
<polygon points="1092.4,560.2 1099.4,565.3 1096.7,573.6 1088.1,573.6 1085.4,565.3" fill="#800000"/>
<polygon points="1141.6,573.8 1148.6,578.9 1145.9,587.1 1137.3,587.1 1134.6,578.9" fill="#800000"/>
<polygon points="1183,587.3 1190,592.4 1187.3,600.7 1178.7,600.7 1176,592.4" fill="#800000"/>
<polygon points="1216.4,600.9 1223.4,606 1220.7,614.2 1212.1,614.2 1209.4,606" fill="#800000"/>
<polygon points="1237,614.4 1244,619.5 1241.3,627.8 1232.7,627.8 1230,619.5" fill="#800000"/>
<polygon points="1242.4,628 1249.4,633.1 1246.7,641.3 1238.1,641.3 1235.4,633.1" fill="#800000"/>
<polygon points="1233.6,641.5 1240.6,646.6 1237.9,654.9 1229.3,654.9 1226.6,646.6" fill="#800000"/>
<polygon points="1210.4,655.1 1217.4,660.2 1214.7,668.4 1206.1,668.4 1203.4,660.2" fill="#800000"/>
<polygon points="1175,668.6 1182,673.7 1179.3,682 1170.7,682 1168,673.7" fill="#800000"/>
<polygon points="1129,682.2 1136,687.3 1133.3,695.5 1124.7,695.5 1122,687.3" fill="#800000"/>
<polygon points="1076.4,695.7 1083.4,700.8 1080.7,709.1 1072.1,709.1 1069.4,700.8" fill="#800000"/>
<polygon points="1020,709.2 1027,714.4 1024.3,722.6 1015.7,722.6 1013,714.4" fill="#800000"/>
<polygon points="959.5,722.8 966.5,727.9 963.8,736.2 955.2,736.2 952.5,727.9" fill="#800000"/>
<polygon points="904,736.4 911,741.5 908.3,749.7 899.7,749.7 897,741.5" fill="#800000"/>
<polygon points="851,749.9 858,755 855.3,763.3 846.7,763.3 844,755" fill="#800000"/>
<polygon points="804,763.5 811,768.6 808.3,776.8 799.7,776.8 797,768.6" fill="#800000"/>
<polygon points="766,777 773,782.1 770.3,790.4 761.7,790.4 759,782.1" fill="#800000"/>
<polygon points="741,790.6 748,795.7 745.3,803.9 736.7,803.9 734,795.7" fill="#800000"/>
</g>
<g>
<polyline points="451,82.6 439,96.3 427,110 415,123.8 403,137.5 391.4,151.2 379.6,164.9 367.6,178.6 356.6,192.4 347.6,206.1 340.6,219.8 341,235.6 347,251.4 358,267.2 372.4,283 392,298.9 414.4,314.7 440,330.5 469,346.3 499.6,362.1 533.5,377.9 568.5,393.7 607,409.5 645.5,425.3 686,441.1 729,457 773,472.8 817.6,488.6 864,504.4 912,520.2 961,536 1011,551.8 1061.6,567 1109.6,580.5 1150.4,594.1 1183,607.6 1204,621.2 1210,634.8 1202.4,648.3 1182,661.9 1149,675.4 1107,689 1057.6,702.5 1002,716 948,729.6 894.4,743.1 844,756.7 800,770.2 764.4,783.8 741,797.4" fill="none" stroke="#F4152F" stroke-width="1.5" stroke-linejoin="round"/>
<polygon points="451,75.6 457.1,79.1 457.1,86.1 451,89.6 444.9,86.1 444.9,79.1" fill="#F4152F"/>
<polygon points="439,89.3 445.1,92.8 445.1,99.8 439,103.3 432.9,99.8 432.9,92.8" fill="#F4152F"/>
<polygon points="427,103 433.1,106.5 433.1,113.5 427,117 420.9,113.5 420.9,106.5" fill="#F4152F"/>
<polygon points="415,116.8 421.1,120.3 421.1,127.3 415,130.8 408.9,127.3 408.9,120.3" fill="#F4152F"/>
<polygon points="403,130.5 409.1,134 409.1,141 403,144.5 396.9,141 396.9,134" fill="#F4152F"/>
<polygon points="391.4,144.2 397.5,147.7 397.5,154.7 391.4,158.2 385.3,154.7 385.3,147.7" fill="#F4152F"/>
<polygon points="379.6,157.9 385.7,161.4 385.7,168.4 379.6,171.9 373.5,168.4 373.5,161.4" fill="#F4152F"/>
<polygon points="367.6,171.6 373.7,175.1 373.7,182.1 367.6,185.6 361.5,182.1 361.5,175.1" fill="#F4152F"/>
<polygon points="356.6,185.4 362.7,188.9 362.7,195.9 356.6,199.4 350.5,195.9 350.5,188.9" fill="#F4152F"/>
<polygon points="347.6,199.1 353.7,202.6 353.7,209.6 347.6,213.1 341.5,209.6 341.5,202.6" fill="#F4152F"/>
<polygon points="340.6,212.8 346.7,216.3 346.7,223.3 340.6,226.8 334.5,223.3 334.5,216.3" fill="#F4152F"/>
<polygon points="341,228.6 347.1,232.1 347.1,239.1 341,242.6 334.9,239.1 334.9,232.1" fill="#F4152F"/>
<polygon points="347,244.4 353.1,247.9 353.1,254.9 347,258.4 340.9,254.9 340.9,247.9" fill="#F4152F"/>
<polygon points="358,260.2 364.1,263.7 364.1,270.7 358,274.2 351.9,270.7 351.9,263.7" fill="#F4152F"/>
<polygon points="372.4,276 378.5,279.5 378.5,286.5 372.4,290 366.3,286.5 366.3,279.5" fill="#F4152F"/>
<polygon points="392,291.9 398.1,295.4 398.1,302.4 392,305.9 385.9,302.4 385.9,295.4" fill="#F4152F"/>
<polygon points="414.4,307.7 420.5,311.2 420.5,318.2 414.4,321.7 408.3,318.2 408.3,311.2" fill="#F4152F"/>
<polygon points="440,323.5 446.1,327 446.1,334 440,337.5 433.9,334 433.9,327" fill="#F4152F"/>
<polygon points="469,339.3 475.1,342.8 475.1,349.8 469,353.3 462.9,349.8 462.9,342.8" fill="#F4152F"/>
<polygon points="499.6,355.1 505.7,358.6 505.7,365.6 499.6,369.1 493.5,365.6 493.5,358.6" fill="#F4152F"/>
<polygon points="533.5,370.9 539.6,374.4 539.6,381.4 533.5,384.9 527.4,381.4 527.4,374.4" fill="#F4152F"/>
<polygon points="568.5,386.7 574.6,390.2 574.6,397.2 568.5,400.7 562.4,397.2 562.4,390.2" fill="#F4152F"/>
<polygon points="607,402.5 613.1,406 613.1,413 607,416.5 600.9,413 600.9,406" fill="#F4152F"/>
<polygon points="645.5,418.3 651.6,421.8 651.6,428.8 645.5,432.3 639.4,428.8 639.4,421.8" fill="#F4152F"/>
<polygon points="686,434.1 692.1,437.6 692.1,444.6 686,448.1 679.9,444.6 679.9,437.6" fill="#F4152F"/>
<polygon points="729,450 735.1,453.5 735.1,460.5 729,464 722.9,460.5 722.9,453.5" fill="#F4152F"/>
<polygon points="773,465.8 779.1,469.3 779.1,476.3 773,479.8 766.9,476.3 766.9,469.3" fill="#F4152F"/>
<polygon points="817.6,481.6 823.7,485.1 823.7,492.1 817.6,495.6 811.5,492.1 811.5,485.1" fill="#F4152F"/>
<polygon points="864,497.4 870.1,500.9 870.1,507.9 864,511.4 857.9,507.9 857.9,500.9" fill="#F4152F"/>
<polygon points="912,513.2 918.1,516.7 918.1,523.7 912,527.2 905.9,523.7 905.9,516.7" fill="#F4152F"/>
<polygon points="961,529 967.1,532.5 967.1,539.5 961,543 954.9,539.5 954.9,532.5" fill="#F4152F"/>
<polygon points="1011,544.8 1017.1,548.3 1017.1,555.3 1011,558.8 1004.9,555.3 1004.9,548.3" fill="#F4152F"/>
<polygon points="1061.6,560 1067.7,563.5 1067.7,570.5 1061.6,574 1055.5,570.5 1055.5,563.5" fill="#F4152F"/>
<polygon points="1109.6,573.5 1115.7,577 1115.7,584 1109.6,587.5 1103.5,584 1103.5,577" fill="#F4152F"/>
<polygon points="1150.4,587.1 1156.5,590.6 1156.5,597.6 1150.4,601.1 1144.3,597.6 1144.3,590.6" fill="#F4152F"/>
<polygon points="1183,600.6 1189.1,604.1 1189.1,611.1 1183,614.6 1176.9,611.1 1176.9,604.1" fill="#F4152F"/>
<polygon points="1204,614.2 1210.1,617.7 1210.1,624.7 1204,628.2 1197.9,624.7 1197.9,617.7" fill="#F4152F"/>
<polygon points="1210,627.8 1216.1,631.2 1216.1,638.2 1210,641.8 1203.9,638.2 1203.9,631.2" fill="#F4152F"/>
<polygon points="1202.4,641.3 1208.5,644.8 1208.5,651.8 1202.4,655.3 1196.3,651.8 1196.3,644.8" fill="#F4152F"/>
<polygon points="1182,654.9 1188.1,658.4 1188.1,665.4 1182,668.9 1175.9,665.4 1175.9,658.4" fill="#F4152F"/>
<polygon points="1149,668.4 1155.1,671.9 1155.1,678.9 1149,682.4 1142.9,678.9 1142.9,671.9" fill="#F4152F"/>
<polygon points="1107,682 1113.1,685.5 1113.1,692.5 1107,696 1100.9,692.5 1100.9,685.5" fill="#F4152F"/>
<polygon points="1057.6,695.5 1063.7,699 1063.7,706 1057.6,709.5 1051.5,706 1051.5,699" fill="#F4152F"/>
<polygon points="1002,709 1008.1,712.5 1008.1,719.5 1002,723 995.9,719.5 995.9,712.5" fill="#F4152F"/>
<polygon points="948,722.6 954.1,726.1 954.1,733.1 948,736.6 941.9,733.1 941.9,726.1" fill="#F4152F"/>
<polygon points="894.4,736.1 900.5,739.6 900.5,746.6 894.4,750.1 888.3,746.6 888.3,739.6" fill="#F4152F"/>
<polygon points="844,749.7 850.1,753.2 850.1,760.2 844,763.7 837.9,760.2 837.9,753.2" fill="#F4152F"/>
<polygon points="800,763.2 806.1,766.8 806.1,773.8 800,777.2 793.9,773.8 793.9,766.8" fill="#F4152F"/>
<polygon points="764.4,776.8 770.5,780.3 770.5,787.3 764.4,790.8 758.3,787.3 758.3,780.3" fill="#F4152F"/>
<polygon points="741,790.4 747.1,793.9 747.1,800.9 741,804.4 734.9,800.9 734.9,793.9" fill="#F4152F"/>
</g>
<g stroke="#000" stroke-width="2.4" stroke-dasharray="4.1 8.95" fill="none">
<line x1="182.1" y1="219.9" x2="1354.6" y2="219.9"/>
<line x1="167.7" y1="550.3" x2="1341" y2="553.5"/>
</g>
<g stroke="#000" fill="none" stroke-linecap="butt">
<rect x="163" y="15" width="1191.6" height="876.5" stroke-width="3.6"/>
<path d="M215.1 891.5v-19.6M215.1 15v19.6M318.7 891.5v-19.6M318.7 15v19.6M422.3 891.5v-19.6M422.3 15v19.6M525.9 891.5v-19.6M525.9 15v19.6M629.5 891.5v-19.6M629.5 15v19.6M733.1 891.5v-19.6M733.1 15v19.6M836.6 891.5v-19.6M836.6 15v19.6M940.2 891.5v-19.6M940.2 15v19.6M1043.8 891.5v-19.6M1043.8 15v19.6M1147.4 891.5v-19.6M1147.4 15v19.6M1251 891.5v-19.6M1251 15v19.6M163 82.4h19.6M1354.6 82.4h-19.6M163 149.8h19.6M1354.6 149.8h-19.6M163 217.3h19.6M1354.6 217.3h-19.6M163 284.7h19.6M1354.6 284.7h-19.6M163 352.1h19.6M1354.6 352.1h-19.6M163 419.5h19.6M1354.6 419.5h-19.6M163 487h19.6M1354.6 487h-19.6M163 554.4h19.6M1354.6 554.4h-19.6M163 621.8h19.6M1354.6 621.8h-19.6M163 689.2h19.6M1354.6 689.2h-19.6M163 756.7h19.6M1354.6 756.7h-19.6M163 824.1h19.6M1354.6 824.1h-19.6" stroke-width="3.3"/>
</g>
<g opacity="0.999">
<g font-size="33" text-anchor="middle">
<text transform="translate(214.1 935.9) scale(1.02 1)">-25000</text>
<text transform="translate(317.7 935.9) scale(1.02 1)">-20000</text>
<text transform="translate(421.3 935.9) scale(1.02 1)">-15000</text>
<text transform="translate(524.9 935.9) scale(1.02 1)">-10000</text>
<text transform="translate(628.5 935.9) scale(1.02 1)">-5000</text>
<text transform="translate(732.1 935.9) scale(1.02 1)">0</text>
<text transform="translate(835.6 935.9) scale(1.02 1)">5000</text>
<text transform="translate(939.2 935.9) scale(1.02 1)">10000</text>
<text transform="translate(1042.8 935.9) scale(1.02 1)">15000</text>
<text transform="translate(1146.4 935.9) scale(1.02 1)">20000</text>
<text transform="translate(1250 935.9) scale(1.02 1)">25000</text>
<text transform="translate(1353.6 935.9) scale(1.02 1)">30000</text>
</g>
<g font-size="33" text-anchor="end">
<text transform="translate(142.8 24.8) scale(1.035 1)">7.5</text>
<text transform="translate(142.8 92.1) scale(1.035 1)">5.0</text>
<text transform="translate(142.8 159.4) scale(1.035 1)">2.5</text>
<text transform="translate(142.8 226.8) scale(1.035 1)">0.0</text>
<text transform="translate(142.8 294.1) scale(1.035 1)">-2.5</text>
<text transform="translate(142.8 361.4) scale(1.035 1)">-5.0</text>
<text transform="translate(142.8 428.7) scale(1.035 1)">-7.5</text>
<text transform="translate(142.8 496.1) scale(1.035 1)">-10.0</text>
<text transform="translate(142.8 563.4) scale(1.035 1)">-12.5</text>
<text transform="translate(142.8 630.7) scale(1.035 1)">-15.0</text>
<text transform="translate(142.8 698) scale(1.035 1)">-17.5</text>
<text transform="translate(142.8 765.4) scale(1.035 1)">-20.0</text>
<text transform="translate(142.8 832.7) scale(1.035 1)">-22.5</text>
<text transform="translate(142.8 900) scale(1.035 1)">-25.0</text>
</g>
<text x="757.8" y="1008.5" font-size="42.6" text-anchor="middle">Bending moment (N·m)</text>
<text transform="translate(39.6 602) rotate(-90) scale(1.023 1)" font-size="42.7">Elavation (m)</text>
<text transform="translate(804.8 197.8) scale(1.022 1)" font-size="42.2" text-anchor="middle">Sea level</text>
<text transform="translate(1189.1 526.2) scale(1.03 1)" font-size="42.2" text-anchor="middle">Sea bed</text>
<g font-size="31">
<line x1="226" y1="488.7" x2="296.4" y2="488.7" stroke="#000000" stroke-width="1.5"/>
<rect x="255.7" y="483.4" width="10.6" height="10.6" fill="#000000"/>
<text x="302.6" y="498.5">H<tspan fill-opacity="0.5">=</tspan>1.44m,T<tspan fill-opacity="0.5">=</tspan>5.73s</text>
<line x1="226" y1="527.6" x2="296.4" y2="527.6" stroke="#FF0000" stroke-width="1.5"/>
<circle cx="261" cy="527.6" r="5.9" fill="#FF0000"/>
<text x="302.6" y="537.4">H=1.44m,T=6.19s</text>
<line x1="226" y1="565.6" x2="296.4" y2="565.6" stroke="#0000FF" stroke-width="1.5"/>
<polygon points="261,557.6 268.3,570.5 253.7,570.5" fill="#0000FF"/>
<text x="302.6" y="575.4">H<tspan fill-opacity="0.35">=</tspan>1.44m,T<tspan fill-opacity="0.35">=</tspan>7.45s</text>
<line x1="226" y1="604.3" x2="296.4" y2="604.3" stroke="#008080" stroke-width="1.5"/>
<polygon points="261,612.3 268.7,599.4 253.3,599.4" fill="#008080"/>
<text x="302.6" y="614.1">H<tspan fill-opacity="0.35">=</tspan>2.11m,T<tspan fill-opacity="0.35">=</tspan>5.73s</text>
<line x1="226" y1="643.2" x2="296.4" y2="643.2" stroke="#FF00FF" stroke-width="1.5"/>
<polygon points="253,643.2 265.9,635.9 265.9,650.5" fill="#FF00FF"/>
<text x="302.6" y="653">H<tspan fill-opacity="0.3">=</tspan>2.11m,T<tspan fill-opacity="0.3">=</tspan>6.19s</text>
<line x1="226" y1="682.2" x2="296.4" y2="682.2" stroke="#808000" stroke-width="1.5"/>
<polygon points="269,682.2 256.1,674.9 256.1,689.5" fill="#808000"/>
<text x="302.6" y="692">H=2.11m,T=7.45s</text>
<line x1="226" y1="721" x2="296.4" y2="721" stroke="#000080" stroke-width="1.5"/>
<polygon points="261,713 268,721 261,729 254,721" fill="#000080"/>
<text x="302.6" y="730.8">H<tspan fill-opacity="0.7">=</tspan>3.00m,T<tspan fill-opacity="0.7">=</tspan>5.73s</text>
<line x1="226" y1="759.6" x2="296.4" y2="759.6" stroke="#800000" stroke-width="1.5"/>
<polygon points="261,752.8 268,757.9 265.3,766.2 256.7,766.2 254,757.9" fill="#800000"/>
<text x="302.6" y="769.4">H<tspan fill-opacity="0.3">=</tspan>3.00m,T<tspan fill-opacity="0.3">=</tspan>6.19s</text>
<line x1="226" y1="797.9" x2="296.4" y2="797.9" stroke="#F4152F" stroke-width="1.5"/>
<polygon points="261,790.9 267.1,794.4 267.1,801.4 261,804.9 254.9,801.4 254.9,794.4" fill="#F4152F"/>
<text x="302.6" y="807.7">H<tspan fill-opacity="0.9">=</tspan>3.00m,T<tspan fill-opacity="0.9">=</tspan>7.45s</text>
</g>
</g>
</svg></body></html>
